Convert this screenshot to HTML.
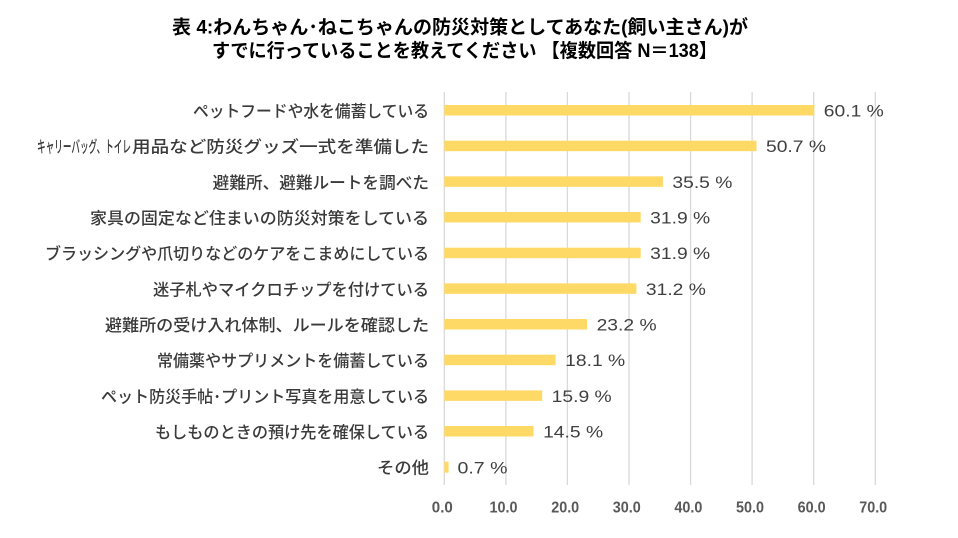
<!DOCTYPE html>
<html><head><meta charset="utf-8"><style>
html,body{margin:0;padding:0;background:#fff;}
svg{display:block;}
.t{font-family:"Liberation Sans","Noto Sans CJK JP",sans-serif;font-weight:bold;font-size:19px;fill:#000;}
.c{font-family:"Liberation Sans","Noto Sans CJK JP",sans-serif;font-size:16.5px;font-weight:500;fill:#3a3a3a;}
.v{font-family:"Liberation Sans","Noto Sans CJK JP",sans-serif;font-size:16.5px;fill:#404040;}
.k{font-family:"Liberation Sans",sans-serif;font-weight:bold;font-size:15.5px;fill:#595959;}
</style></head><body>
<svg width="958" height="538" viewBox="0 0 958 538" xmlns="http://www.w3.org/2000/svg">
<rect width="958" height="538" fill="#fff"/>
<text class="t" x="172" y="33.5" textLength="576" lengthAdjust="spacingAndGlyphs">表 4:わんちゃん･ねこちゃんの防災対策としてあなた(飼い主さん)が</text>
<text class="t" x="212" y="57" textLength="505" lengthAdjust="spacingAndGlyphs">すでに行っていることを教えてください 【複数回答 N＝138】</text>
<g stroke="#d9d9d9" stroke-width="1.3">
<line x1="444.3" y1="92" x2="444.3" y2="485"/>
<line x1="505.9" y1="92" x2="505.9" y2="485"/>
<line x1="567.4" y1="92" x2="567.4" y2="485"/>
<line x1="629.0" y1="92" x2="629.0" y2="485"/>
<line x1="690.6" y1="92" x2="690.6" y2="485"/>
<line x1="752.1" y1="92" x2="752.1" y2="485"/>
<line x1="813.7" y1="92" x2="813.7" y2="485"/>
<line x1="875.3" y1="92" x2="875.3" y2="485"/>
</g>
<g fill="#ffd966">
<rect x="444.3" y="105" width="370.0" height="10.5"/>
<rect x="444.3" y="140.67" width="312.2" height="10.5"/>
<rect x="444.3" y="176.34" width="218.6" height="10.5"/>
<rect x="444.3" y="212.0" width="196.4" height="10.5"/>
<rect x="444.3" y="247.7" width="196.4" height="10.5"/>
<rect x="444.3" y="283.35" width="192.1" height="10.5"/>
<rect x="444.3" y="319.0" width="142.8" height="10.5"/>
<rect x="444.3" y="354.7" width="111.4" height="10.5"/>
<rect x="444.3" y="390.4" width="97.9" height="10.5"/>
<rect x="444.3" y="426.0" width="89.3" height="10.5"/>
<rect x="444.3" y="461.7" width="4.3" height="11"/>
</g>
<g>
<text class="c" x="193" y="117" textLength="236" lengthAdjust="spacingAndGlyphs">ペットフードや水を備蓄している</text>
<text class="c" y="152.7"><tspan x="37" textLength="94" lengthAdjust="spacingAndGlyphs">キャリーバッグ、トイレ</tspan><tspan x="132" textLength="297" lengthAdjust="spacingAndGlyphs">用品など防災グッズ一式を準備した</tspan></text>
<text class="c" x="212.7" y="188.3" textLength="216.3" lengthAdjust="spacingAndGlyphs">避難所、避難ルートを調べた</text>
<text class="c" x="90" y="224" textLength="339" lengthAdjust="spacingAndGlyphs">家具の固定など住まいの防災対策をしている</text>
<text class="c" x="45" y="259.7" textLength="384" lengthAdjust="spacingAndGlyphs">ブラッシングや爪切りなどのケアをこまめにしている</text>
<text class="c" x="153" y="295.4" textLength="276" lengthAdjust="spacingAndGlyphs">迷子札やマイクロチップを付けている</text>
<text class="c" x="105" y="331" textLength="324" lengthAdjust="spacingAndGlyphs">避難所の受け入れ体制、ルールを確認した</text>
<text class="c" x="157" y="366.7" textLength="272" lengthAdjust="spacingAndGlyphs">常備薬やサプリメントを備蓄している</text>
<text class="c" x="101" y="402.4" textLength="328" lengthAdjust="spacingAndGlyphs">ペット防災手帖･プリント写真を用意している</text>
<text class="c" x="155" y="438" textLength="274" lengthAdjust="spacingAndGlyphs">もしものときの預け先を確保している</text>
<text class="c" x="377" y="473.7" textLength="52" lengthAdjust="spacingAndGlyphs">その他</text>
</g>
<g>
<text class="v" x="823.8" y="116.5" textLength="60" lengthAdjust="spacingAndGlyphs">60.1 %</text>
<text class="v" x="766" y="152.2" textLength="60" lengthAdjust="spacingAndGlyphs">50.7 %</text>
<text class="v" x="672.4" y="187.8" textLength="60" lengthAdjust="spacingAndGlyphs">35.5 %</text>
<text class="v" x="650.2" y="223.5" textLength="60" lengthAdjust="spacingAndGlyphs">31.9 %</text>
<text class="v" x="650.2" y="259.2" textLength="60" lengthAdjust="spacingAndGlyphs">31.9 %</text>
<text class="v" x="645.9" y="294.9" textLength="60" lengthAdjust="spacingAndGlyphs">31.2 %</text>
<text class="v" x="596.6" y="330.5" textLength="60" lengthAdjust="spacingAndGlyphs">23.2 %</text>
<text class="v" x="565.2" y="366.2" textLength="60" lengthAdjust="spacingAndGlyphs">18.1 %</text>
<text class="v" x="551.7" y="401.9" textLength="60" lengthAdjust="spacingAndGlyphs">15.9 %</text>
<text class="v" x="543.1" y="437.5" textLength="60" lengthAdjust="spacingAndGlyphs">14.5 %</text>
<text class="v" x="457.5" y="473.5" textLength="50" lengthAdjust="spacingAndGlyphs">0.7 %</text>
</g>
<g>
<text class="k" x="431.8" y="512.5" textLength="21" lengthAdjust="spacingAndGlyphs">0.0</text>
<text class="k" x="489.5" y="512.5" textLength="28" lengthAdjust="spacingAndGlyphs">10.0</text>
<text class="k" x="551.2" y="512.5" textLength="28" lengthAdjust="spacingAndGlyphs">20.0</text>
<text class="k" x="612.8" y="512.5" textLength="28" lengthAdjust="spacingAndGlyphs">30.0</text>
<text class="k" x="674.4" y="512.5" textLength="28" lengthAdjust="spacingAndGlyphs">40.0</text>
<text class="k" x="736" y="512.5" textLength="28" lengthAdjust="spacingAndGlyphs">50.0</text>
<text class="k" x="797.6" y="512.5" textLength="28" lengthAdjust="spacingAndGlyphs">60.0</text>
<text class="k" x="859.2" y="512.5" textLength="28" lengthAdjust="spacingAndGlyphs">70.0</text>
</g>
</svg>
</body></html>
